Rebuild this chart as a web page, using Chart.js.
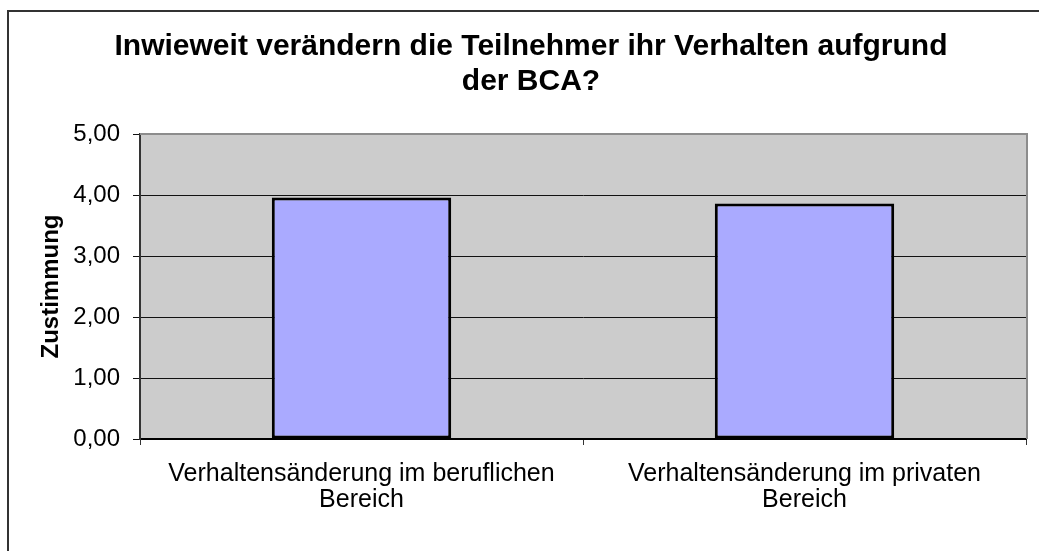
<!DOCTYPE html>
<html>
<head>
<meta charset="utf-8">
<script src="https://cdn.jsdelivr.net/npm/chart.js@4.4.1/dist/chart.umd.min.js"></script>
<style>
  html, body { margin: 0; padding: 0; background: #fff; }
  canvas { display: block; }
</style>
</head>
<body>
<canvas id="chart" width="1039" height="551"></canvas>
<script>
// Data
const categories = [
    ['Verhaltensänderung im beruflichen', 'Bereich'],
    ['Verhaltensänderung im privaten', 'Bereich']
];
const values = [3.96, 3.86];
const yTicks = [0, 1, 2, 3, 4, 5];

const titleLines = ['Inwieweit verändern die Teilnehmer ihr Verhalten aufgrund', 'der BCA?'];
const yTitle = 'Zustimmung';

const FONT = '"Liberation Sans", Arial, sans-serif';

// grey plot area + outer frame + plot border
const framePlugin = {
    id: 'frame',
    beforeDraw(chart) {
        const { ctx, chartArea } = chart;
        ctx.save();
        ctx.fillStyle = '#cccccc';
        ctx.fillRect(chartArea.left, chartArea.top, chartArea.right - chartArea.left, chartArea.bottom - chartArea.top);
        ctx.strokeStyle = '#333333';
        ctx.lineWidth = 2;
        ctx.strokeRect(8, 11, chart.width + 20, chart.height + 20);
        ctx.restore();
    },
    afterDatasetsDraw(chart) {
        const { ctx, chartArea } = chart;
        ctx.save();
        ctx.strokeStyle = '#8c8c8c';
        ctx.lineWidth = 2;
        ctx.beginPath();
        ctx.moveTo(chartArea.left, chartArea.top);
        ctx.lineTo(chartArea.right + 1, chartArea.top);
        ctx.lineTo(chartArea.right + 1, chartArea.bottom);
        ctx.stroke();
        ctx.restore();
    }
};

new Chart(document.getElementById('chart'), {
    type: 'bar',
    data: {
        labels: categories,
        datasets: [{
            data: values,
            backgroundColor: '#aaaaff',
            borderColor: '#000000',
            borderWidth: 3,
            borderSkipped: false,
            categoryPercentage: 1.0,
            barPercentage: 0.405
        }]
    },
    options: {
        responsive: false,
        devicePixelRatio: 1,
        animation: false,
        layout: { padding: { left: 36, right: 13, top: 0, bottom: 0 } },
        plugins: {
            legend: { display: false },
            tooltip: { enabled: false },
            title: {
                display: true,
                text: titleLines,
                color: '#000',
                font: { family: FONT, size: 30, weight: 'bold', lineHeight: 1.17 },
                padding: { top: 29, bottom: 34.8 }
            }
        },
        scales: {
            x: {
                offset: true,
                grid: {
                    offset: true,
                    drawOnChartArea: false,
                    color: '#333333',
                    tickLength: 6
                },
                border: { color: '#000000', width: 2 },
                ticks: {
                    color: '#000',
                    padding: 16,
                    maxRotation: 0,
                    font: { family: FONT, size: 25, lineHeight: 1.04 }
                },
                afterFit(scale) { scale.height = 112; }
            },
            y: {
                min: 0,
                max: 5,
                afterBuildTicks(scale) { scale.ticks = yTicks.map(v => ({ value: v })); },
                grid: {
                    color: '#111111',
                    tickLength: 7
                },
                border: { color: '#333333', width: 2 },
                ticks: {
                    color: '#000',
                    padding: 13,
                    font: { family: FONT, size: 24 },
                    callback: v => v.toFixed(2).replace('.', ',')
                },
                title: {
                    display: true,
                    text: yTitle,
                    color: '#000',
                    font: { family: FONT, size: 24, weight: 'bold' },
                    padding: { top: 0.6, bottom: 0 }
                },
                afterFit(scale) { scale.width = 104; }
            }
        }
    },
    plugins: [framePlugin]
});
</script>
</body>
</html>
